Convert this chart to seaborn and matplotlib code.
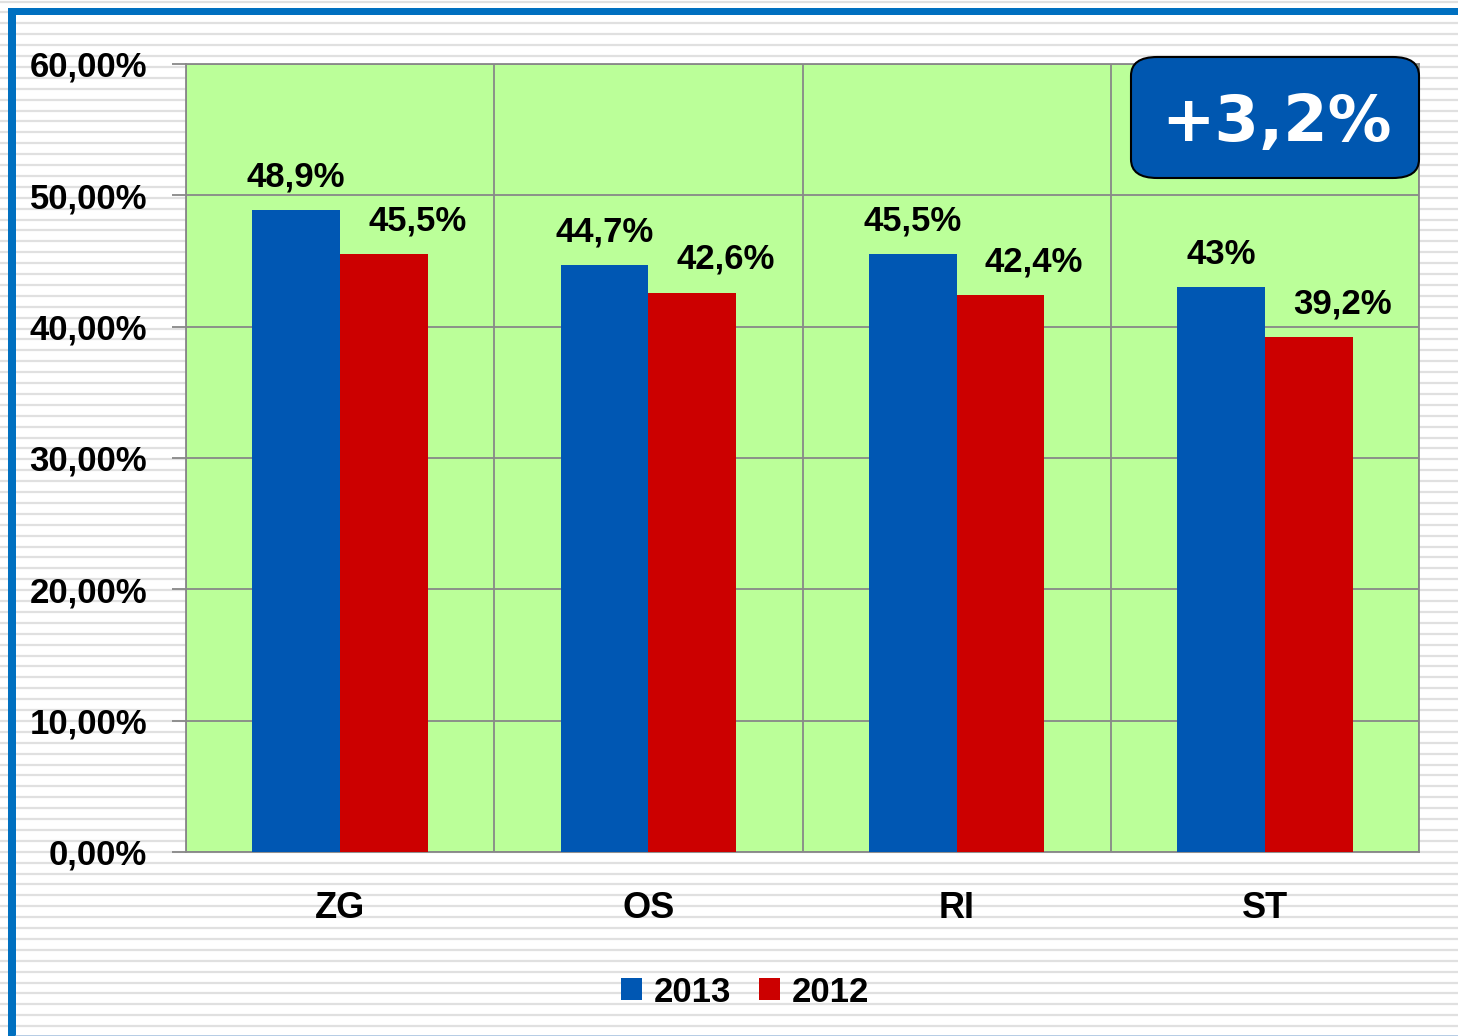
import numpy as np
import pandas as pd
import matplotlib
matplotlib.use('Agg')
import matplotlib.pyplot as plt
from matplotlib.patches import FancyBboxPatch, Rectangle
import seaborn as sns

# Data
regions = ['ZG', 'OS', 'RI', 'ST']
years = ['2013', '2012']
vals_2013 = [48.9, 44.7, 45.5, 43.0]
vals_2012 = [45.5, 42.6, 42.4, 39.2]
yticks = [0, 10, 20, 30, 40, 50, 60]
badge = '+3,2%'

df = pd.DataFrame({
    'region': regions * 2,
    'year': [years[0]] * 4 + [years[1]] * 4,
    'value': vals_2013 + vals_2012,
})

sns.set_theme(style='white')
plt.rcParams['font.family'] = ['Liberation Sans', 'DejaVu Sans']
plt.rcParams['font.weight'] = 'bold'
plt.rcParams['text.color'] = 'black'
plt.rcParams['xtick.color'] = 'black'
plt.rcParams['ytick.color'] = 'black'

fig = plt.figure(figsize=(14.58, 10.36), dpi=100)

# striped background + blue frame
bg = fig.add_axes([0, 0, 1, 1], zorder=-10)
bg.set_xlim(0, 1458)
bg.set_ylim(1036, 0)
bg.axis('off')
for y in np.arange(1.5, 1036, 10.9):
    bg.axhline(y, color='#e0e0e0', lw=1.6, zorder=1)
bg.add_patch(Rectangle((8, 7.5), 1450, 7.5, color='#0070c0', lw=0, zorder=5))
bg.add_patch(Rectangle((8, 7.5), 8, 1029, color='#0070c0', lw=0, zorder=5))
bg.axhline(1035.5, xmin=16 / 1458, color='#a9c4e0', lw=1.2, zorder=5)

ax = fig.add_axes([186 / 1458, 1 - 852 / 1036, (1419 - 186) / 1458, (852 - 64) / 1036])
sns.barplot(data=df, x='region', y='value', hue='year', hue_order=years,
            palette=['#0057b3', '#cc0000'], width=0.57, gap=0, saturation=1,
            dodge=True, ax=ax, edgecolor='none', linewidth=0, zorder=3)

ax.set_facecolor('#bbff99')
ax.set_ylim(0, 60)
ax.set_xlim(-0.5, 3.5)
ax.set_yticks(yticks)
ax.set_yticklabels([f'{t:.2f}%'.replace('.', ',') for t in yticks])
ax.set_xticks(range(len(regions)))
ax.set_xticklabels(regions)
ax.set_xticks(np.arange(-0.5, 4, 1), minor=True)
ax.tick_params(axis='x', which='major', length=0, pad=28, labelsize=26)
ax.tick_params(axis='x', which='minor', length=10, width=1.3, color='#888888', direction='out')
ax.tick_params(axis='y', length=10, width=1.3, color='#888888', direction='out', pad=18, labelsize=25,
               left=True)
ax.grid(True, axis='y', color='#888888', lw=1.3, zorder=1)
ax.grid(True, axis='x', which='minor', color='#888888', lw=1.3, zorder=1)
ax.grid(False, axis='x', which='major')
for s in ax.spines.values():
    s.set_color('#888888')
    s.set_linewidth(1.3)
ax.set_xlabel('')
ax.set_ylabel('')

# value labels
for cont, dx in zip(ax.containers, [0, 24]):
    for bar in cont:
        h = bar.get_height()
        txt = f'{h:g}'.replace('.', ',') + '%'
        ax.annotate(txt, (bar.get_x() + bar.get_width() / 2, h), xytext=(dx, 12),
                    textcoords='offset points', ha='center', va='bottom',
                    fontsize=25, fontweight='bold', color='black', zorder=5)

# legend
handles, labels = ax.get_legend_handles_labels()
ax.legend(handles, labels, loc='center', bbox_to_anchor=(745 / 1458, 1 - 992 / 1036),
          bbox_transform=fig.transFigure, ncol=2, frameon=False, fontsize=25,
          handlelength=0.6, handleheight=0.6, handletextpad=0.35, columnspacing=0.8)

# badge
box = FancyBboxPatch((1131 / 1458, 1 - 178 / 1036), (1419 - 1131) / 1458, (178 - 57) / 1036,
                     boxstyle='round,pad=0,rounding_size=0.018', transform=fig.transFigure,
                     facecolor='#0057b0', edgecolor='black', lw=1.5, zorder=20)
fig.patches.append(box)
fig.text(1276 / 1458, 1 - 123 / 1036, badge, ha='center', va='center', color='white',
         fontsize=46, fontweight='bold', family='DejaVu Sans', zorder=21)

fig.savefig('out.png', dpi=100)
